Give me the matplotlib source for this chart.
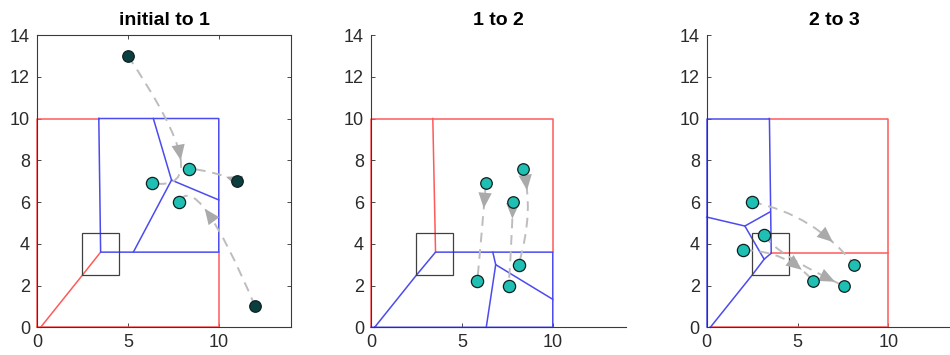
import numpy as np
import matplotlib.pyplot as plt
from matplotlib.path import Path
from matplotlib.patches import PathPatch, Rectangle

plt.rcParams['font.family'] = ['Liberation Sans', 'DejaVu Sans']

titles = ['initial to 1', '1 to 2', '2 to 3']

# agent positions after each round
initial_pts = [(5, 13), (11, 7), (12, 1)]
round1_pts = [(6.32, 6.9), (8.36, 7.6), (7.8, 6.0)]
round2_pts = [(5.85, 2.23), (8.12, 3.0), (7.57, 1.97)]
round3_pts = [(2.5, 6.0), (3.16, 4.42), (2.0, 3.7)]

# target box
box_xy = (2.5, 2.5)
box_size = 2.0

# partition borders, one list of polylines per panel
red_lines = [
    [[(0, 0), (0, 10), (3.4, 10)], [(0, 0), (10, 0), (10, 3.6)],
     [(0.2, 0), (2.5, 2.5), (3.5, 3.6)]],
    [[(0, 0), (0, 10), (10, 10), (10, 3.6)], [(3.4, 10), (3.55, 3.6)]],
    [[(3.45, 10), (10, 10), (10, 0), (0.2, 0)], [(3.55, 3.55), (10, 3.55)]],
]
blue_lines = [
    [[(3.4, 10), (10, 10), (10, 3.6), (3.5, 3.6), (3.4, 10)],
     [(6.4, 10), (7.4, 7.05), (10, 6.1)], [(7.4, 7.05), (5.3, 3.6)]],
    [[(0.2, 0), (2.5, 2.5), (3.55, 3.6), (10, 3.6), (10, 0), (0, 0)],
     [(6.7, 3.6), (6.86, 3.0), (10, 1.34)], [(6.86, 3.0), (6.34, 0)]],
    [[(3.45, 10), (0, 10), (0, 0)], [(3.45, 10), (3.55, 3.55)],
     [(0, 5.28), (2.1, 4.85), (3.47, 5.52)],
     [(2.1, 4.85), (3.16, 3.26), (3.55, 3.55)],
     [(3.16, 3.26), (2.5, 2.5), (0.2, 0)]],
]

# movement arrows: (start, bend control, end, arrowhead position along curve)
arrows = [
    [(initial_pts[0], (10.1, 6.4), round1_pts[0], 0.5),
     (initial_pts[1], (9.7, 7.5), round1_pts[1], 0.2),
     (initial_pts[2], (8.8, 7.58), round1_pts[2], 0.5)],
    [(round1_pts[0], (6.1, 4.6), round2_pts[0], 0.23),
     (round1_pts[1], (9.0, 5.6), round2_pts[1], 0.22),
     (round1_pts[2], (7.75, 4.0), round2_pts[2], 0.17)],
    [(round3_pts[0], (5.9, 5.4), round2_pts[1], 0.72),
     (round3_pts[1], (3.8, 3.5), round2_pts[2], 0.9),
     (round3_pts[2], (4.4, 3.68), round2_pts[0], 0.77)],
]
old_pts = [initial_pts, round1_pts, round2_pts]
new_pts = [round1_pts, round2_pts, round3_pts]
old_colors = ['#0b3f3f', '#1fbfb3', '#1fbfb3']

red = '#ff5a5a'
blue = '#4b4bef'
gray = '#bdbdbd'


def bez(p0, c, p2, t):
    p0, c, p2 = np.array(p0), np.array(c), np.array(p2)
    return (1 - t) ** 2 * p0 + 2 * (1 - t) * t * c + t ** 2 * p2


fig = plt.figure(figsize=(9.5, 3.55), dpi=100)
lefts = [37, 371, 706.7]
for i in range(3):
    ax = fig.add_axes([lefts[i] / 950, 27.7 / 355, 254.5 / 950, 292.3 / 355])
    ax.set_xlim(0, 14)
    ax.set_ylim(0, 14)
    ax.set_xticks([0, 5, 10])
    ax.set_yticks(range(0, 15, 2))
    ax.tick_params(direction='in', length=3, width=0.6, labelsize=13,
                   colors='#2b2b2b', pad=5, top=(i == 0), right=(i == 0))
    for s in ax.spines.values():
        s.set_color('#3a3a3a')
        s.set_linewidth(0.8)
    if i > 0:
        ax.spines['top'].set_visible(False)
        ax.spines['right'].set_visible(False)
    ax.set_title(titles[i], fontsize=14, fontweight='bold', pad=7)

    for line in red_lines[i]:
        xs, ys = zip(*line)
        ax.plot(xs, ys, color=red, lw=1.1, zorder=2, clip_on=False)
    for line in blue_lines[i]:
        xs, ys = zip(*line)
        ax.plot(xs, ys, color=blue, lw=1.1, zorder=2.1, clip_on=False)
    ax.add_patch(Rectangle(box_xy, box_size, box_size, fill=False,
                           ec='#404040', lw=0.9, zorder=2.2))

    for p0, c, p2, t in arrows[i]:
        path = Path([p0, c, p2], [Path.MOVETO, Path.CURVE3, Path.CURVE3])
        ax.add_patch(PathPatch(path, fc='none', ec=gray, lw=1.4,
                               ls=(0, (5, 3.5)), zorder=3))
        tail = bez(p0, c, p2, t - 0.02)
        tip = bez(p0, c, p2, t + 0.03)
        ax.annotate('', xy=tip, xytext=tail, zorder=3.1,
                    arrowprops=dict(arrowstyle='-|>,head_length=0.7,head_width=0.3',
                                    color='#aaaaaa', lw=0, mutation_scale=16,
                                    shrinkA=0, shrinkB=0))

    ox, oy = zip(*old_pts[i])
    ax.plot(ox, oy, 'o', ms=8.3, mfc=old_colors[i], mec='#102020', mew=0.9,
            zorder=4, clip_on=False)
    nx, ny = zip(*new_pts[i])
    ax.plot(nx, ny, 'o', ms=8.8, mfc='#1fbfb3', mec='#102020', mew=0.9,
            zorder=4, clip_on=False)

fig.savefig('out.png', dpi=100)
